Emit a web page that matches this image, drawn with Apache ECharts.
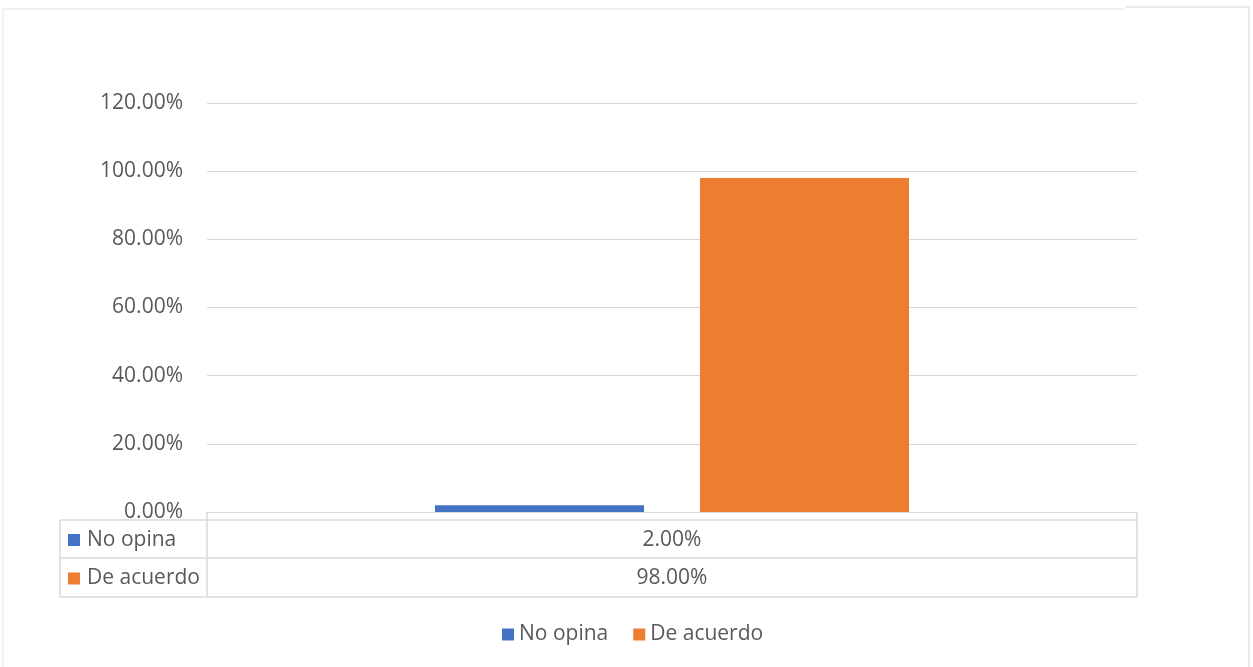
<!DOCTYPE html>
<html>
<head>
<meta charset="utf-8">
<script src="https://cdn.jsdelivr.net/npm/echarts@6/dist/echarts.min.js"></script>
<style>
  html, body { margin: 0; padding: 0; background: #ffffff; }
  #chart { width: 1253px; height: 667px; }
</style>
</head>
<body>
<div id="chart"></div>
<script>
// Survey result: one category, two answer groups
const categories = [''];
const seriesNames = ['No opina', 'De acuerdo'];
const noOpina = [2.0];
const deAcuerdo = [98.0];
const seriesColors = ['#4472C4', '#ED7D31'];
const yTicks = { min: 0, max: 120, interval: 20 };

const textColor = '#595959';
const lineColor = '#d9d9d9';
const font = '"Open Sans", "Noto Sans", sans-serif';
const fontSize = 21;

const grid = { left: 207, right: 116, top: 103, bottom: 155 };

const chart = echarts.init(document.getElementById('chart'), null, { renderer: 'canvas' });

const seriesData = [noOpina, deAcuerdo];

const option = {
  animation: false,
  backgroundColor: '#ffffff',
  grid: grid,
  legend: {
    data: seriesNames,
    left: 502,
    top: 624,
    padding: 0,
    icon: 'rect',
    itemWidth: 12,
    itemHeight: 12,
    itemGap: 25,
    textStyle: { color: textColor, fontSize: fontSize, fontFamily: font }
  },
  xAxis: {
    type: 'category',
    data: categories,
    axisLine: { show: true, lineStyle: { color: lineColor, width: 1 } },
    axisTick: { show: false },
    axisLabel: { show: false }
  },
  yAxis: {
    type: 'value',
    min: yTicks.min,
    max: yTicks.max,
    interval: yTicks.interval,
    axisLine: { show: false },
    axisTick: { show: false },
    splitLine: { lineStyle: { color: lineColor, width: 1 } },
    axisLabel: {
      color: textColor,
      fontSize: fontSize,
      fontFamily: font,
      margin: 24,
      formatter: v => v.toFixed(2) + '%'
    }
  },
  series: seriesNames.map((name, i) => ({
    name: name,
    type: 'bar',
    data: seriesData[i],
    barWidth: 209,
    barGap: '26.8%',
    itemStyle: { color: seriesColors[i] }
  }))
};

chart.setOption(option);

// Data table under the plot, built from the same series arrays
function buildTable() {
  const x0 = grid.left;
  const x1 = 1253 - grid.right;
  const xAxisY = 667 - grid.bottom;
  const tableLeft = 60;
  const rowTops = [520, 558, 597];
  const center = chart.convertToPixel({ xAxisIndex: 0 }, 0);
  const els = [];
  const ls = { stroke: lineColor, lineWidth: 1.5 };
  const f = fontSize + 'px ' + font;

  // chart frame
  els.push({ type: 'polyline', shape: { points: [[3, 667], [3, 9], [1125, 9]] }, style: { stroke: '#e3e3e3', lineWidth: 1, fill: null } });
  els.push({ type: 'polyline', shape: { points: [[1125, 7], [1249, 7], [1249, 667]] }, style: { stroke: '#e3e3e3', lineWidth: 1.5, fill: null } });

  // table grid lines
  rowTops.forEach(y => {
    els.push({ type: 'line', shape: { x1: tableLeft, y1: y, x2: x1, y2: y }, style: ls });
  });
  els.push({ type: 'line', shape: { x1: tableLeft, y1: rowTops[0], x2: tableLeft, y2: rowTops[2] }, style: ls });
  els.push({ type: 'line', shape: { x1: x0, y1: xAxisY, x2: x0, y2: rowTops[2] }, style: ls });
  els.push({ type: 'line', shape: { x1: x1, y1: xAxisY, x2: x1, y2: rowTops[2] }, style: ls });

  seriesNames.forEach((name, i) => {
    const midY = (rowTops[i] + rowTops[i + 1]) / 2 + 1;
    els.push({ type: 'rect', shape: { x: 68, y: midY - 6, width: 12, height: 12 }, style: { fill: seriesColors[i] } });
    els.push({ type: 'text', x: 87, y: midY, style: { text: name, fill: textColor, font: f, verticalAlign: 'middle' } });
    els.push({ type: 'text', x: center, y: midY, style: { text: seriesData[i][0].toFixed(2) + '%', fill: textColor, font: f, align: 'center', verticalAlign: 'middle' } });
  });

  chart.setOption({ graphic: { elements: els } });
}
buildTable();
</script>
</body>
</html>
